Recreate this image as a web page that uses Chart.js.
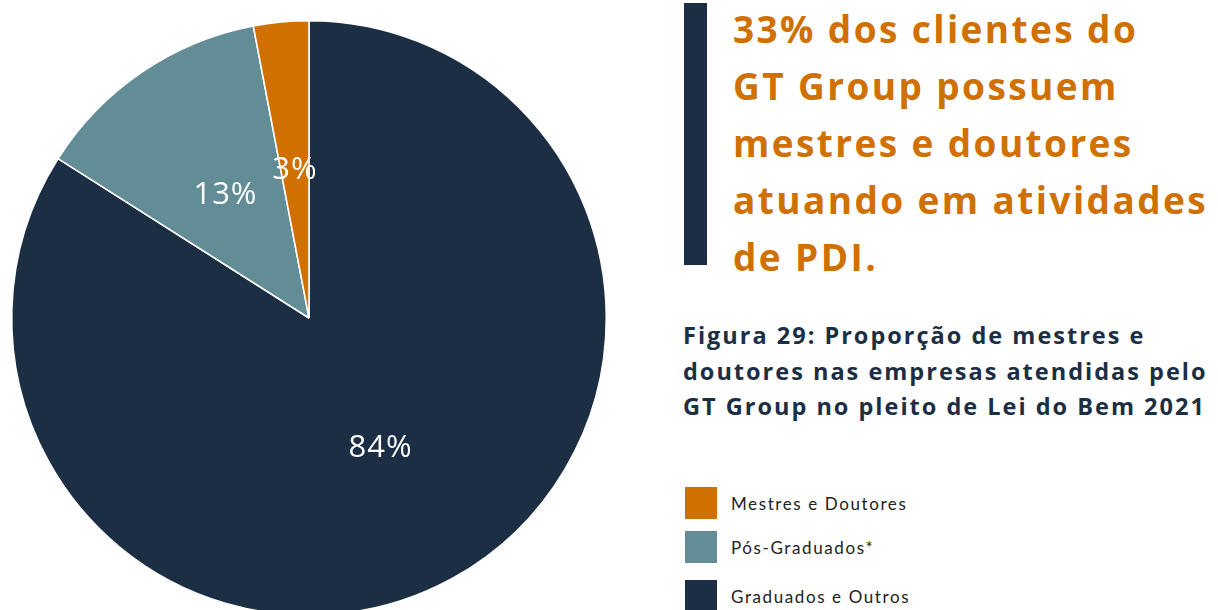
<!DOCTYPE html>
<html>
<head>
<meta charset="utf-8">
<script src="https://cdn.jsdelivr.net/npm/chart.js@4"></script>
<style>
    html, body { margin: 0; padding: 0; background: #fff; width: 1218px; height: 610px; overflow: hidden; }
    #pieBox { position: absolute; left: 0; top: 0; width: 618px; height: 636px; }
    .bar { position: absolute; left: 684px; top: 3px; width: 23px; height: 262px; background: #1c2e43; }
    .headline { position: absolute; left: 733px; top: 0px; color: #d07000; font-family: 'Open Sans', sans-serif; font-weight: 700; font-size: 37px; line-height: 57px; letter-spacing: 2.4px; white-space: nowrap; }
    .caption { position: absolute; left: 683px; top: 318px; color: #1c2e43; font-family: 'Open Sans', sans-serif; font-weight: 700; font-size: 23.5px; line-height: 35.5px; letter-spacing: 2px; white-space: nowrap; }
    #legend { position: absolute; left: 685px; top: 487px; font-family: 'Lato', sans-serif; font-size: 17px; color: #222; letter-spacing: 1.6px; }
    .item { position: absolute; left: 0; height: 32px; white-space: nowrap; }
    .item span.sw { position: absolute; left: 0; top: 0; width: 32px; height: 32px; }
    .item span.tx { position: absolute; left: 46px; top: 6px; }
</style>
</head>
<body>
<div id="pieBox"><canvas id="pieChart"></canvas></div>
<div class="bar"></div>
<div class="headline">33% dos clientes do<br>GT Group possuem<br>mestres e doutores<br>atuando em atividades<br>de PDI.</div>
<div class="caption">Figura 29: Proporção de mestres e<br>doutores nas empresas atendidas pelo<br>GT Group no pleito de Lei do Bem 2021</div>
<div id="legend"></div>
<script>
const categories = ['Graduados e Outros', 'Pós-Graduados*', 'Mestres e Doutores'];
const shares = [84, 13, 3];
const sliceColors = ['#1c2e43', '#628c96', '#d07000'];

// legend is shown in reverse order, with its own spacing
const legendTops = [93, 44, 0];

document.addEventListener('DOMContentLoaded', () => {

    const legend = document.getElementById('legend');
    categories.forEach((name, i) => {
        const item = document.createElement('div');
        item.className = 'item';
        item.style.top = legendTops[i] + 'px';
        item.innerHTML = '<span class="sw" style="background:' + sliceColors[i] + '"></span><span class="tx">' + name + '</span>';
        legend.appendChild(item);
    });

    // draw the percentage inside each slice
    const sliceLabels = {
        id: 'sliceLabels',
        afterDatasetsDraw(chart) {
            const ctx = chart.ctx;
            const meta = chart.getDatasetMeta(0);
            ctx.save();
            ctx.fillStyle = '#ffffff';
            ctx.font = "31px 'Open Sans', sans-serif";
            ctx.letterSpacing = '1px';
            ctx.textAlign = 'center';
            ctx.textBaseline = 'middle';
            meta.data.forEach((arc, i) => {
                const pos = arc.tooltipPosition();
                ctx.fillText(shares[i] + '%', pos.x, pos.y);
            });
            ctx.restore();
        }
    };

    const pieCtx = document.getElementById('pieChart').getContext('2d');
    new Chart(pieCtx, {
        type: 'pie',
        data: {
            labels: categories,
            datasets: [{
                data: shares,
                backgroundColor: sliceColors,
                borderColor: '#ffffff',
                borderWidth: 1.5
            }]
        },
        options: {
            responsive: true,
            maintainAspectRatio: false,
            animation: false,
            layout: { padding: 11 },
            plugins: {
                legend: { display: false },
                tooltip: { enabled: false }
            }
        },
        plugins: [sliceLabels]
    });
});
</script>
</body>
</html>
